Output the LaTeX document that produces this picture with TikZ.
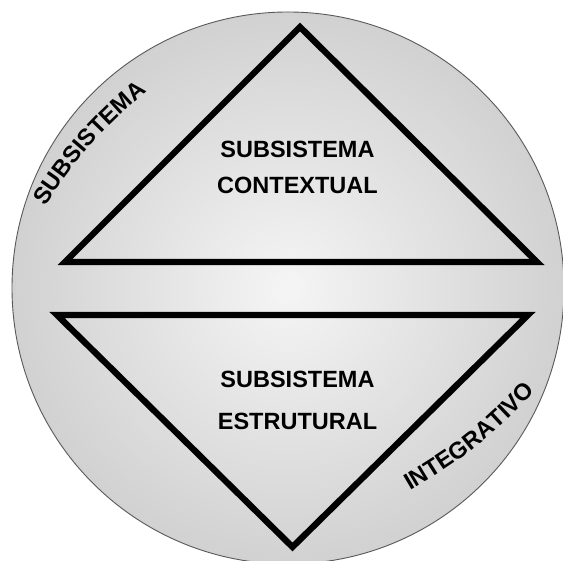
\documentclass[tikz,border=0pt]{standalone}
\usepackage{fontspec}
\setmainfont{Liberation Sans}
\usetikzlibrary{decorations.text}

\newcommand{\labelfont}{\bfseries\fontsize{23.5}{28}\selectfont}

\begin{document}
\begin{tikzpicture}[
	x=1pt, y=1pt,
	% Define the style for the labels and the triangles
	every node/.style={font=\labelfont, anchor=base, inner sep=0pt},
	triangle/.style={line width=6.3pt, line join=miter},
	arclabel/.style={decorate, decoration={text along path, text align=center,
		text={|\labelfont|#1}}}
	]
	\useasboundingbox (0,0) rectangle (563,561);
	
	% --- CIRCLE ---
	\coordinate (o) at (288,273);
	\shade[inner color=white!96!black, outer color=white!82!black] (o) circle (276pt);
	\draw[black!65, line width=0.9pt] (o) circle (276pt);
	
	% --- TRIANGLES ---
	% Format: \coordinate (name) at (x,y);
	\coordinate (t1) at (65,299);
	\coordinate (t2) at (537,299);
	\coordinate (t3) at (300,534);
	
	\coordinate (b1) at (57,246);
	\coordinate (b2) at (528,246);
	\coordinate (b3) at (292.5,14);
	
	\draw[triangle] (t1) -- (t2) -- (t3) -- cycle;
	\draw[triangle] (b1) -- (b2) -- (b3) -- cycle;
	
	% --- LABELS ---
	\node (ctx1) at (297.5,403.7) {SUBSISTEMA};
	\node (ctx2) at (297.5,367) {CONTEXTUAL};
	\node (est1) at (297.5,173) {SUBSISTEMA};
	\node (est2) at (297.5,131) {ESTRUTURAL};
	
	% curved words along the rim
	\coordinate (s1) at (46,356);
	\coordinate (s2) at (146,469);
	\coordinate (i1) at (411,71);
	\coordinate (i2) at (535,169);
	
	\path[arclabel=SUBSISTEMA] (s1) to[bend left=8] (s2);
	\path[arclabel=INTEGRATIVO] (i1) to[bend right=8] (i2);
	
\end{tikzpicture}
\end{document}
